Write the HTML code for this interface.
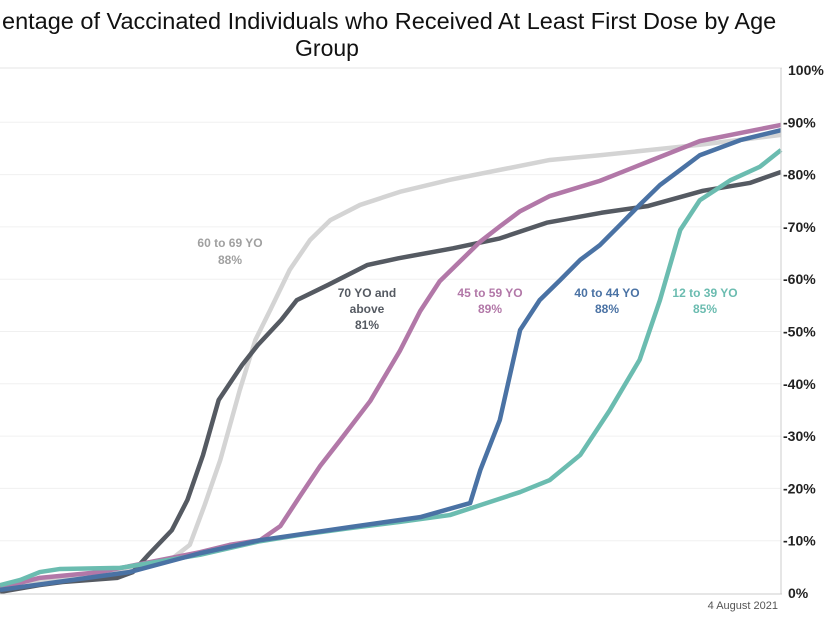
<!DOCTYPE html>
<html><head><meta charset="utf-8"><style>
body{margin:0;background:#fff;width:830px;height:622px;overflow:hidden;font-family:"Liberation Sans",sans-serif}
</style></head><body>
<svg width="830" height="622">
<text x="2" y="29" font-size="23.5" fill="#111">entage of Vaccinated Individuals who Received At Least First Dose by Age</text>
<text x="327" y="56" font-size="23" fill="#111" text-anchor="middle">Group</text>
<line x1="0" y1="68" x2="782" y2="68" stroke="#e6e6e6"/>
<g id="grid"></g><g id="lines"></g>
<line x1="781" y1="68" x2="781" y2="594" stroke="#ccc"/>
<line x1="0" y1="594" x2="782" y2="594" stroke="#ccc"/>
<text x="778" y="609" font-size="11" fill="#555" text-anchor="end">4 August 2021</text>
<g font-size="12" font-weight="bold" text-anchor="middle">
<text x="230" y="247" fill="#a0a0a0">60 to 69 YO</text>
<text x="230" y="264" fill="#a0a0a0">88%</text>
<text x="367" y="297" fill="#555a62">70 YO and</text>
<text x="367" y="313" fill="#555a62">above</text>
<text x="367" y="329" fill="#555a62">81%</text>
<text x="490" y="297" fill="#b278a8">45 to 59 YO</text>
<text x="490" y="313" fill="#b278a8">89%</text>
<text x="607" y="297" fill="#4a72a4">40 to 44 YO</text>
<text x="607" y="313" fill="#4a72a4">88%</text>
<text x="705" y="297" fill="#6bbcb0">12 to 39 YO</text>
<text x="705" y="313" fill="#6bbcb0">85%</text>
</g>
</svg>
<script>
const yTicks=[0,10,20,30,40,50,60,70,80,90,100];
const darkX=[0,5,8,15,17,19,22,24,26,28,31,33,36,38,42,47,51,58,64,70,77,83,90,96,100];
const darkY=[0.2,1.5,2.1,2.9,4,7.3,12,17.8,26.4,36.9,43.6,47.4,52.2,56,58.9,62.7,64,65.9,67.8,70.8,72.7,74,76.9,78.4,80.5];
const lightX=[0,5.1,10.2,16.6,21.8,24.3,26.2,28.2,30.7,32.7,34.6,37.1,39.7,42.3,46.1,51.2,57.6,64,70.4,76.8,83.2,89.6,100];
const lightY=[0.6,2.5,3.4,4.4,6.3,9.2,16.8,25.4,38.8,48.4,54.1,61.8,67.5,71.3,74.2,76.7,79,80.9,82.8,83.7,84.7,85.7,87.6];
const purpleX=[0,5.1,12.8,19.2,25.6,29.4,33.3,35.9,38.4,41,43.5,47.4,51.2,53.8,56.3,58.9,61.5,64,66.6,70.4,76.8,83.2,89.6,100];
const purpleY=[1,2.9,4,5.9,7.8,9.2,10.1,12.8,18.5,24.3,29.1,36.7,46.3,53.9,59.6,63.4,67.2,70.1,73,75.9,78.8,82.6,86.4,89.5];
const blueX=[0,16.6,25.6,33.3,44.8,53.8,60.2,61.5,64,66.6,69.1,71.7,74.3,76.8,79.4,81.9,84.5,87.1,89.6,94.8,100];
const blueY=[0.6,4,7.6,10.1,12.6,14.5,17.2,23.5,33.1,50.3,56,59.8,63.7,66.5,70.4,74.2,78,80.9,83.7,86.6,88.5];
const tealX=[0,2.6,5.1,7.7,15.4,25.6,33.3,38.4,44.8,51.2,57.6,61.5,66.6,70.4,74.3,78.1,81.9,84.5,87.1,89.6,93.5,97.3,100];
const tealY=[1.5,2.5,4,4.6,4.8,7.3,9.9,11.1,12.4,13.6,14.9,16.8,19.3,21.6,26.4,35,44.6,56,69.4,75.1,78.9,81.5,84.7];
const NS="http://www.w3.org/2000/svg";
function sx(v){return v/100*781;}
function sy(v){return 593-v*5.23;}
const grid=document.getElementById('grid');
yTicks.forEach(t=>{
  if(t>0&&t<100){const l=document.createElementNS(NS,'line');
  l.setAttribute('x1',0);l.setAttribute('x2',781);l.setAttribute('y1',sy(t));l.setAttribute('y2',sy(t));
  l.setAttribute('stroke','#f0f0f0');
  
  
  grid.appendChild(l);}
  const tx=document.createElementNS(NS,'text');
  tx.setAttribute('x',783);tx.setAttribute('y',sy(t)+5);tx.setAttribute('font-size','14');tx.setAttribute('font-weight','bold');tx.setAttribute('fill','#222');
  tx.textContent=(t>0&&t<100?'-':' ')+t+'%';
  if(t===0||t===100)tx.setAttribute('x',788);
  
  
  grid.appendChild(tx);
});
const series=[[lightX,lightY,'#d4d4d4','line-60-69'],[darkX,darkY,'#555a62','line-70-above'],[purpleX,purpleY,'#b278a8','line-45-59'],[tealX,tealY,'#6bbcb0','line-12-39'],[blueX,blueY,'#4a72a4','line-40-44']];
const lg=document.getElementById('lines');
series.forEach(s=>{
  const p=document.createElementNS(NS,'polyline');
  p.setAttribute('points',s[0].map((x,i)=>sx(x)+','+sy(s[1][i])).join(' '));
  p.setAttribute('fill','none');p.setAttribute('stroke',s[2]);p.setAttribute('stroke-width','4.5');p.setAttribute('stroke-linejoin','round');
  
  
  lg.appendChild(p);
});
</script>
</body></html>
